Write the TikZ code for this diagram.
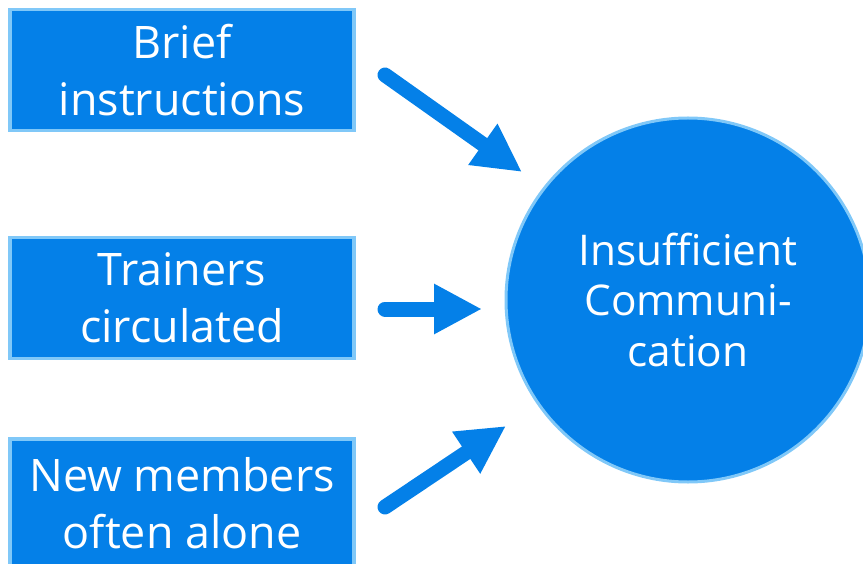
\documentclass[tikz,border=0pt]{standalone}
\usepackage{fontspec}
\setmainfont{Open Sans}
\usetikzlibrary{arrows.meta}
\definecolor{boxblue}{RGB}{4,128,232}
\definecolor{rimblue}{RGB}{128,200,248}
\tikzset{
  cause/.style={draw=rimblue, fill=boxblue, line width=3.5bp, minimum width=344bp,
    minimum height=121bp, inner sep=0pt, text=white, align=center,
    font=\fontsize{45}{57}\selectfont},
  effect/.style={circle, draw=rimblue, fill=boxblue, line width=3bp, minimum size=364bp,
    inner sep=0pt, text=white, align=center, font=\fontsize{42.5}{51}\selectfont},
  push/.style={draw=boxblue, line width=15bp, line cap=round,
    -{Triangle[length=48bp,width=47bp]}}
}
\begin{document}
\begin{tikzpicture}[x=1bp,y=-1bp]
	\useasboundingbox (0,0) rectangle (863,564);
	\clip (0,0) rectangle (863,564);
	% causes on the left
	\node[cause] (brief) at (182,70) {Brief\\instructions};
	\node[cause] (trainers) at (182,298) {Trainers\\circulated};
	\node[cause, minimum height=128bp] (alone) at (182,503) {New members\\often alone};
	% effect
	\node[effect] (issue) at (688,300) {Insufficient\\Communi-\\cation};
	% arrows
	\coordinate (t1) at (385,75);
	\coordinate (h1) at (522,172);
	\coordinate (t2) at (385,309);
	\coordinate (h2) at (482,309);
	\coordinate (t3) at (385,507);
	\coordinate (h3) at (506,426);
	\draw[push] (t1) -- (h1);
	\draw[push] (t2) -- (h2);
	\draw[push] (t3) -- (h3);
\end{tikzpicture}
\end{document}
